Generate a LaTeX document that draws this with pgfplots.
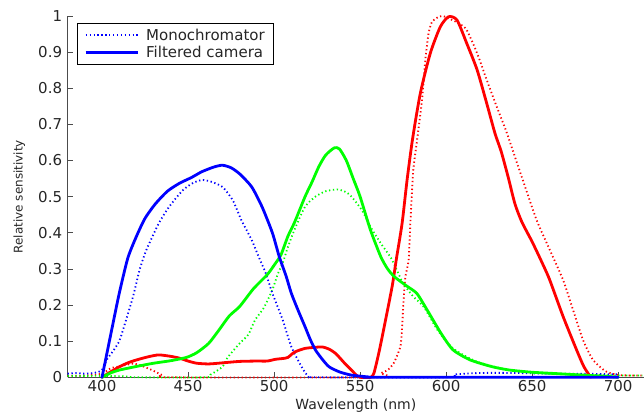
\documentclass[border=0pt]{standalone}
\usepackage{fontspec}
\setmainfont{DejaVu Sans}
\usepackage{pgfplots}
\pgfplotsset{compat=1.18}
\definecolor{axgray}{rgb}{0.3,0.3,0.3}
\definecolor{txtgray}{rgb}{0.15,0.15,0.15}
\begin{document}
\begin{tikzpicture}
\begin{axis}[
  at={(0,0)}, anchor=south west,
  scale only axis, width=576.4pt, height=361.3pt,
  xmin=380, xmax=715, ymin=0, ymax=1,
  axis x line*=bottom, axis y line*=left,
  axis line style={axgray, line width=0.7pt},
  xtick={400,450,500,550,600,650,700},
  ytick={0,0.1,0.2,0.3,0.4,0.5,0.6,0.7,0.8,0.9,1},
  yticklabels={0,0.1,0.2,0.3,0.4,0.5,0.6,0.7,0.8,0.9,1},
  tick align=inside, major tick length=5pt,
  tick style={axgray, line width=0.7pt},
  /pgf/number format/assume math mode=true,
  ticklabel style={font=\fontsize{15}{18}\selectfont, text=txtgray},
  yticklabel style={xshift=-2pt},
  xlabel={Wavelength (nm)},
  ylabel={Relative sensitivity},
  every axis x label/.style={at={(axis description cs:0.5,-0.0794)}, anchor=center, font=\fontsize{14}{16}\selectfont, text=txtgray},
  every axis y label/.style={at={(axis description cs:-0.0837,0.5)}, rotate=90, anchor=center, font=\fontsize{12}{14}\selectfont, text=txtgray},
  clip=false,
  legend style={at={(0.0163,0.9806)}, anchor=north west, draw=black, line width=0.7pt, fill=white,
    inner xsep=7pt, inner ysep=3.5pt, column sep=5pt, row sep=0.5pt,
    font=\fontsize{15}{18}\selectfont, text=txtgray, cells={anchor=west}, nodes={inner sep=2pt}},
  legend image code/.code={\draw[#1] (0pt,0pt) -- (52pt,0pt);},
  mono/.style={line width=1.8pt, dash pattern=on 1.3pt off 2.6pt, smooth, tension=0.4},
  cam/.style={line width=2.8pt, line join=round, line cap=round, smooth, tension=0.4},
]
\addlegendimage{blue, line width=1.8pt, dash pattern=on 1.3pt off 2.6pt}
\addlegendimage{blue, line width=2.8pt}

% Monochromator (dotted)
\addplot[red, mono, forget plot] coordinates {
(380,0.004)(390,0.005)(400,0.01)(405,0.025)(410,0.03)(418,0.038)(423,0.032)(429,0.02)(435,0.006)(440,0)
(560,0)(562,0.011)(566,0.02)(569.5,0.039)(573.4,0.085)(574.4,0.14)(575.3,0.214)(576.3,0.278)(578.2,0.325)
(579.2,0.426)(580.2,0.518)(581.1,0.583)(583.1,0.657)(586,0.768)(587.9,0.878)(589.8,0.952)(591.8,0.984)
(595,0.996)(598,1.0)(603,0.99)(608,0.978)(612,0.961)(618,0.897)(623.6,0.823)(629.4,0.749)(635,0.68)
(640,0.61)(645,0.54)(652.6,0.435)(660.3,0.352)(668,0.269)(673.8,0.186)(679.6,0.103)(685.4,0.048)
(693,0.016)(701,0.006)(714,0.005)};
\addplot[green, mono, forget plot] coordinates {
(380,0.004)(390,0.004)(400,0.004)(410,0.003)(415,0.002)(420,0)(460,0)(463,0.007)(470,0.029)(473,0.055)
(480,0.094)(485,0.118)(489,0.159)(494,0.192)(499,0.242)(502,0.284)(505,0.316)(508,0.36)(512,0.41)
(518,0.472)(524,0.5)(530,0.515)(537,0.52)(542,0.512)(545,0.5)(551,0.463)(556,0.417)(562,0.371)
(568,0.33)(572,0.29)(575,0.26)(581,0.223)(587,0.195)(595,0.131)(604,0.08)(618,0.043)(637,0.02)
(660,0.01)(680,0.007)(700,0.005)(714,0.005)};
\addplot[blue, mono, forget plot] coordinates {
(380,0.01)(385,0.012)(390,0.01)(395,0.012)(398,0.015)(400,0.02)(403,0.05)(406,0.07)(410,0.1)
(414,0.159)(418,0.223)(422,0.3)(426,0.355)(433,0.426)(439,0.472)(447,0.518)(453,0.538)(458,0.546)
(463,0.542)(470,0.527)(476,0.49)(481,0.435)(487,0.38)(491,0.334)(495,0.29)(499,0.233)(505,0.159)
(510,0.085)(516,0.029)(520,0.002)(525,0)(600,0)(605,0.008)(620,0.012)(640,0.012)(660,0.01)(680,0.01)(700,0.008)};

% Filtered camera (solid)
\addplot[red, cam, forget plot] coordinates {
(400,0)(405,0.015)(410,0.029)(415,0.04)(420,0.048)(427,0.057)(433,0.062)(440,0.058)(445,0.053)
(450,0.045)(455,0.039)(462,0.037)(470,0.04)(480,0.044)(490,0.045)(496,0.045)(501,0.05)(505,0.052)
(508,0.055)(512,0.07)(518,0.08)(524,0.083)(528,0.084)(532,0.078)(536,0.065)(541,0.039)(545,0.02)
(548,0.005)(550,0)(556,0)(558,0.011)(561,0.07)(564,0.14)(568.6,0.251)(571,0.325)(574.4,0.426)
(577.3,0.546)(580.5,0.66)(585,0.786)(590.8,0.897)(596.6,0.97)(601.4,0.998)(606.3,0.989)(612,0.924)
(618,0.851)(623.6,0.758)(628.4,0.675)(632,0.625)(636,0.555)(640,0.48)(644,0.43)(650,0.375)
(655,0.325)(660,0.272)(668,0.168)(675.8,0.076)(680,0.03)(684,0)};
\addplot[green, cam, forget plot] coordinates {
(400,0)(405,0.012)(410,0.02)(420,0.03)(430,0.039)(440,0.046)(449,0.055)(455,0.068)(462,0.094)
(468,0.131)(474,0.17)(480,0.196)(488,0.245)(496,0.284)(500,0.31)(504,0.339)(508,0.39)(512,0.43)
(518,0.5)(522,0.54)(526,0.583)(530,0.615)(535,0.635)(538,0.632)(542,0.6)(546,0.55)(550,0.5)
(556,0.408)(562,0.334)(566,0.3)(570,0.278)(577,0.253)(583,0.232)(589,0.186)(597,0.122)(604,0.076)
(614,0.048)(627,0.029)(637,0.02)(650,0.014)(665,0.01)(680,0.006)(695,0.002)(700,0)};
\addplot[blue, cam, forget plot] coordinates {
(400,0)(403,0.07)(406,0.14)(410,0.232)(415,0.33)(420,0.39)(425,0.44)(431,0.48)(438,0.515)(445,0.537)
(452,0.553)(458,0.569)(465,0.582)(470,0.587)(475,0.58)(480,0.563)(487,0.527)(493,0.472)(499,0.40)
(503,0.334)(507,0.28)(510,0.233)(514,0.185)(518,0.14)(521,0.105)(524,0.076)(528,0.05)(532,0.029)
(538,0.015)(545,0.006)(555,0.001)(560,0)(700,0)};
\legend{Monochromator, Filtered camera}
\end{axis}
\pgfresetboundingbox
\path[use as bounding box] (-67.6pt,-38.7pt) rectangle (576.4pt,377.3pt);
\end{tikzpicture}
\end{document}
